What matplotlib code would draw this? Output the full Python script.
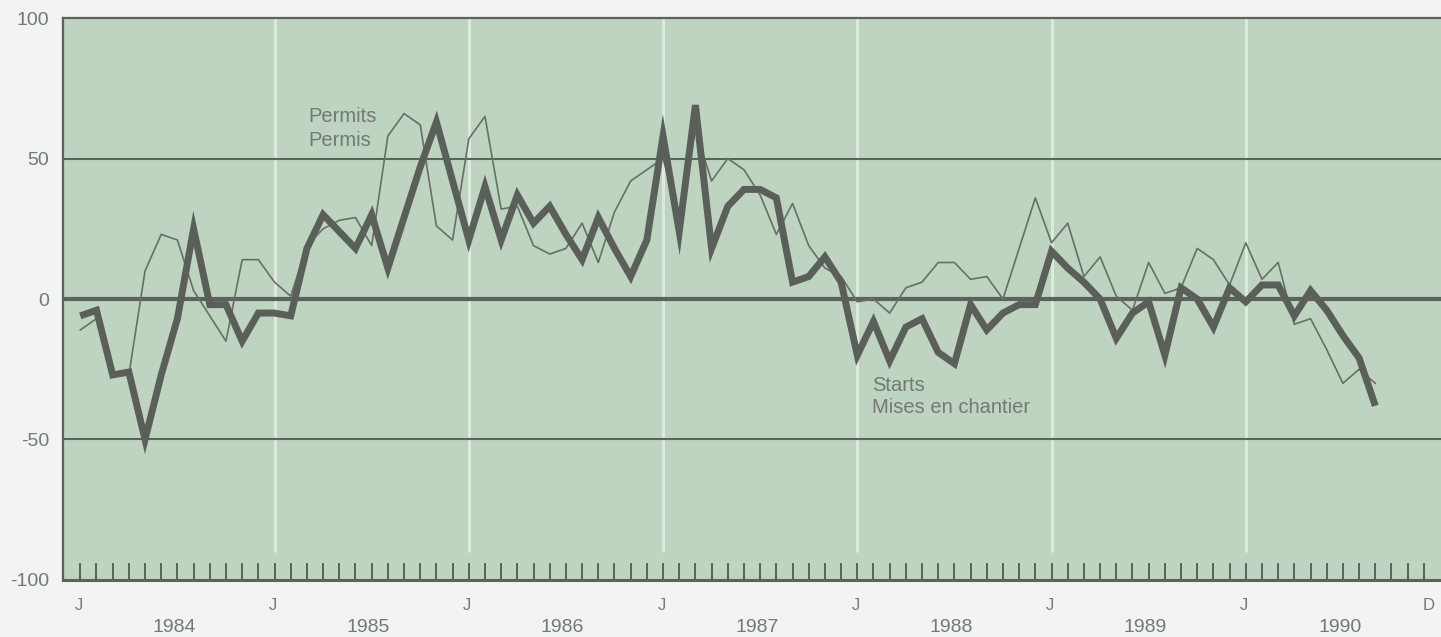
import matplotlib
matplotlib.use('Agg')
import matplotlib.pyplot as plt
import matplotlib.transforms as mtransforms

# monthly % change, Jan 1984 .. Sep 1990
starts = [-6, -4, -27, -26, -50, -27, -7, 25, -2, -2, -15, -5,
          -5, -6, 18, 30, 24, 18, 30, 11, 29, 47, 63, 42,
          21, 40, 21, 37, 27, 33, 23, 14, 29, 18, 8, 21,
          58, 24, 69, 18, 33, 39, 39, 36, 6, 8, 15, 6,
          -20, -8, -22, -10, -7, -19, -23, -2, -11, -5, -2, -2,
          17, 11, 6, 0, -14, -5, -1, -20, 4, 0, -10, 4,
          -1, 5, 5, -6, 3, -4, -13, -21, -38]
permits = [-11, -7, -27, -27, 10, 23, 21, 3, -6, -15, 14, 14,
           6, 1, 19, 25, 28, 29, 19, 58, 66, 62, 26, 21,
           57, 65, 32, 33, 19, 16, 18, 27, 13, 31, 42, 46,
           50, 30, 60, 42, 50, 46, 37, 23, 34, 19, 11, 8,
           -1, 0, -5, 4, 6, 13, 13, 7, 8, 0, 18, 36,
           20, 27, 8, 15, 1, -4, 13, 2, 4, 18, 14, 5,
           20, 7, 13, -9, -7, -18, -30, -25, -30]
years = ['1984', '1985', '1986', '1987', '1988', '1989', '1990']
y_ticks = [-100, -50, 0, 50, 100]
y_labels = ['-100', '-50', '0', '50', '100']
permits_label = ['Permits', 'Permis']
starts_label = ['Starts', 'Mises en chantier']

bg = '#bed3c0'
dark = '#5c625c'
txt = '#737973'
font = 'Liberation Sans'

fig = plt.figure(figsize=(14.41, 6.37), dpi=100, facecolor='#f1f4f0')
ax = fig.add_axes([0.0437, 0.0895, 0.9563, 0.8822])
ax.set_facecolor(bg)

months = list(range(len(starts)))

# january separators
ax.vlines(range(12, 84, 12), -90, 100, color='#dce9dc', lw=2.2, zorder=1)
# horizontal rules
for v in [50, -50]:
    ax.axhline(v, color=dark, lw=1.5, zorder=2)
ax.axhline(0, color=dark, lw=3.0, zorder=2)

ax.plot(months, permits, color='#667066', lw=1.2, zorder=3)
ax.plot(months, starts, color='#5a5f5a', lw=5.0, zorder=4,
        solid_joinstyle='miter', solid_capstyle='butt')

ax.set_xlim(-1.07, 84.06)
ax.set_ylim(-100, 100)

for s in ['top', 'left']:
    ax.spines[s].set_color(dark)
    ax.spines[s].set_linewidth(1.6)
ax.spines['bottom'].set_color(dark)
ax.spines['bottom'].set_linewidth(2.2)
ax.spines['right'].set_visible(False)

ax.set_xticks(range(84))
ax.tick_params(axis='x', direction='in', length=12, width=1.4, color=dark,
               labelbottom=False)
ax.set_yticks(y_ticks)
ax.set_yticklabels(y_labels)
ax.tick_params(axis='y', length=0, pad=10, labelsize=14, labelcolor=txt)
for lab in ax.get_yticklabels():
    lab.set_fontfamily(font)

trans = mtransforms.blended_transform_factory(ax.transData, fig.transFigure)
for i, yr in enumerate(years):
    ax.text(12 * i - 0.1, 1 - 605 / 637, 'J', transform=trans, ha='center',
            va='center', fontsize=12, color=txt, family=font)
    ax.text(12 * i + 5.8, 1 - 628 / 637, yr, transform=trans, ha='center',
            va='center', fontsize=14, color=txt, family=font)
ax.text(83.3, 1 - 605 / 637, 'D', transform=trans, ha='center',
        va='center', fontsize=12, color=txt, family=font)

ax.text(14.1, 62.9, permits_label[0], fontsize=14.5, color=txt, family=font)
ax.text(14.1, 54.5, permits_label[1], fontsize=14.5, color=txt, family=font)
ax.text(48.9, -32.7, starts_label[0], fontsize=14.5, color=txt, family=font)
ax.text(48.9, -40.7, starts_label[1], fontsize=14.5, color=txt, family=font)

fig.savefig('out.png', dpi=100, facecolor=fig.get_facecolor())
